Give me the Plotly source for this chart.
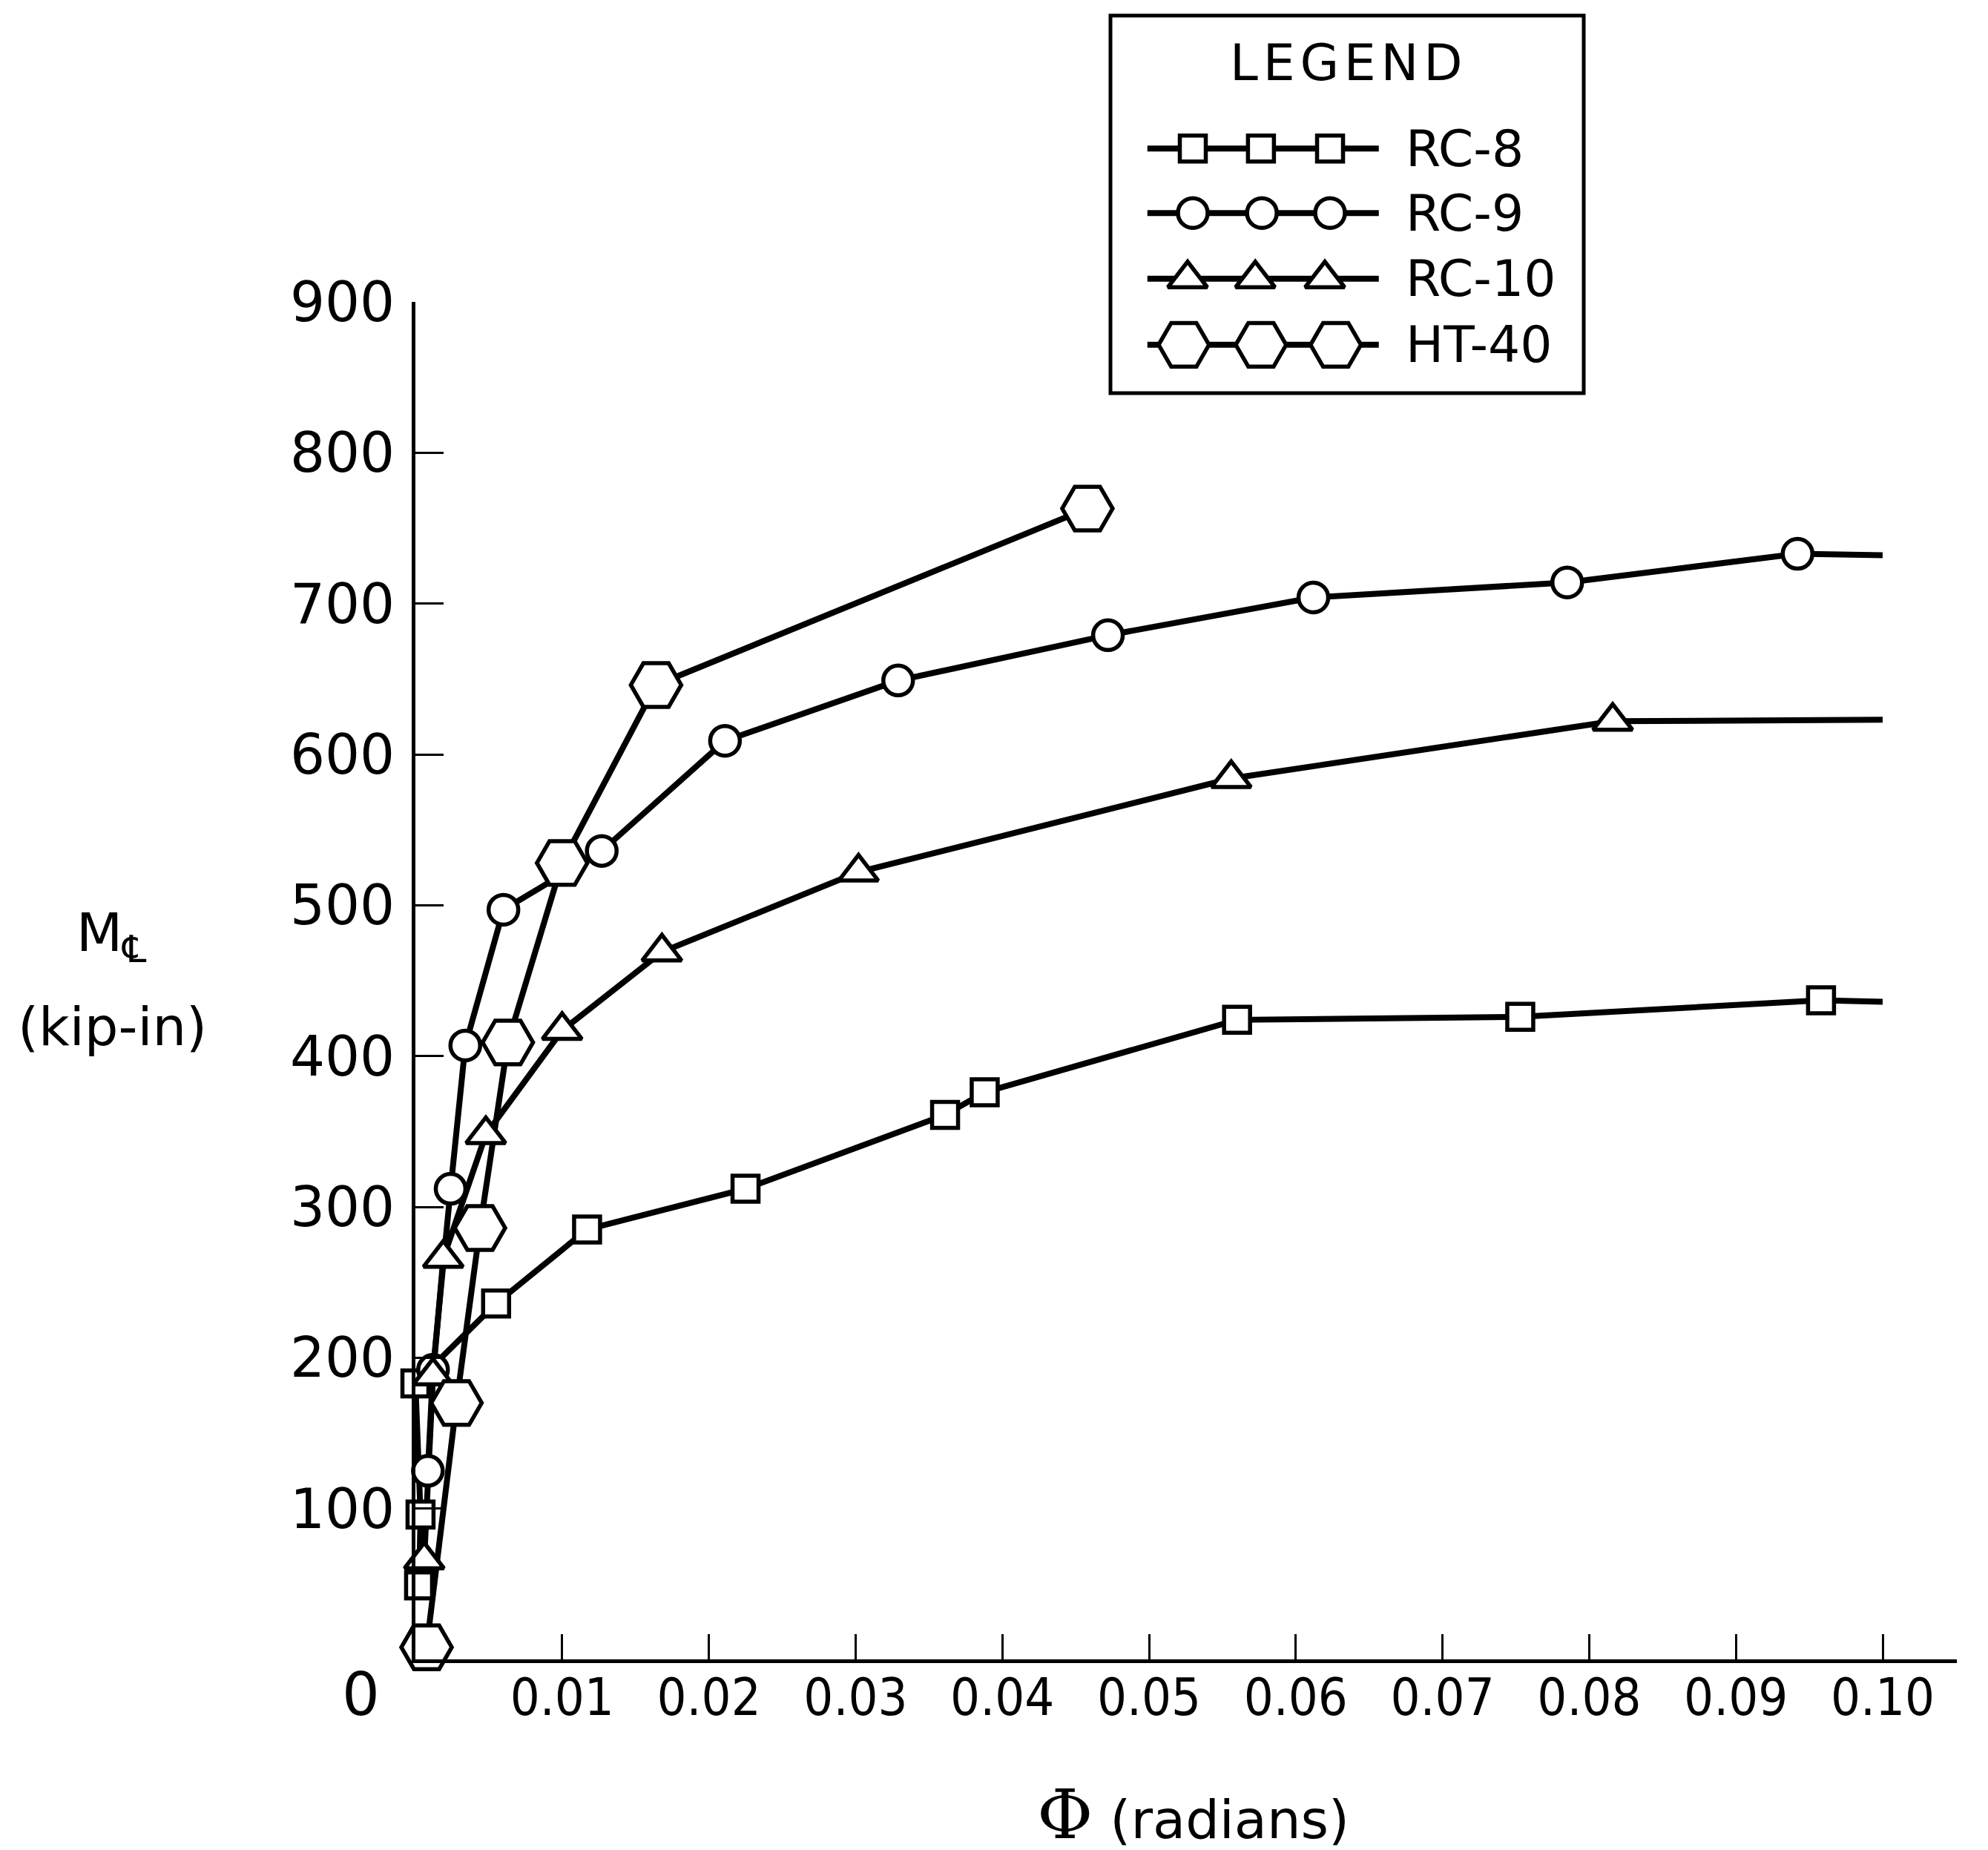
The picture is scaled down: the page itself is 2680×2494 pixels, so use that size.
import plotly.graph_objects as go

# ---------------- data ----------------
rc8_phi = [0.00025, 0.00035, 0.0, 0.0055, 0.0117, 0.0225, 0.0361, 0.0388, 0.0560, 0.0753, 0.0958]
rc8_m = [49, 96, 183, 236, 285, 312, 361, 376, 424, 426, 437]
rc8_end = (0.100, 436)

rc9_phi = [0.00085, 0.0012, 0.0024, 0.0034, 0.0060, 0.0127, 0.0211, 0.0329, 0.0472, 0.0612, 0.0785, 0.0942]
rc9_m = [125, 192, 312, 407, 497, 536, 609, 649, 679, 704, 714, 733]
rc9_end = (0.100, 732)

rc10_phi = [0.0006, 0.0012, 0.0019, 0.0048, 0.0100, 0.0168, 0.0302, 0.0556, 0.0816]
rc10_m = [66, 188, 266, 348, 417, 469, 522, 584, 622]
rc10_end = (0.100, 623)

ht40_phi = [0.00076, 0.0028, 0.0044, 0.0063, 0.0100, 0.0164, 0.0458]
ht40_m = [8, 170, 286, 409, 528, 646, 763]

x_ticks = [0.01, 0.02, 0.03, 0.04, 0.05, 0.06, 0.07, 0.08, 0.09, 0.10]
x_ticktext = ["0.01", "0.02", "0.03", "0.04", "0.05", "0.06", "0.07", "0.08", "0.09", "0.10"]
y_ticks = [100, 200, 300, 400, 500, 600, 700, 800, 900]
y_ticktext = ["100", "200", "300", "400", "500", "600", "700", "800", "900"]

legend_names = ["RC-8", "RC-9", "RC-10", "HT-40"]

# ---------------- layout geometry (pixels) ----------------
W, H = 2680, 2494
AX_L, AX_R = 560, 2638      # x = 0 ... right end of axis line
AX_B, AX_T = 2237, 407      # y = 0 ... y = 900
PX_PER_X = 19780.0          # pixels per radian
X_MAX = (AX_R - AX_L) / PX_PER_X

LEG_L, LEG_R, LEG_T, LEG_B = 1497, 2135, 21, 530

def px(x):
    return x / W

def py(y):
    return 1 - y / H

INK = "black"
LW = 8
MLW = 5.5

styles = {
    "RC-8": dict(symbol="square", size=35),
    "RC-9": dict(symbol="circle", size=40),
    "RC-10": dict(symbol="triangle-up", size=46),
    "HT-40": dict(symbol="hexagon2", size=68),
}

series = [
    ("RC-8", rc8_phi, rc8_m, rc8_end),
    ("RC-9", rc9_phi, rc9_m, rc9_end),
    ("RC-10", rc10_phi, rc10_m, rc10_end),
    ("HT-40", ht40_phi, ht40_m, None),
]

fig = go.Figure()

# lines first
for name, xs, ys, end in series:
    lx = list(xs) + ([end[0]] if end else [])
    ly = list(ys) + ([end[1]] if end else [])
    fig.add_trace(go.Scatter(
        x=lx, y=ly, mode="lines", line=dict(color=INK, width=LW),
        cliponaxis=False, showlegend=False, hoverinfo="skip"))

# then markers
for name, xs, ys, end in series:
    st = styles[name]
    fig.add_trace(go.Scatter(
        x=xs, y=ys, mode="markers", name=name,
        marker=dict(symbol=st["symbol"], size=st["size"], color="white",
                    line=dict(color=INK, width=MLW)),
        cliponaxis=False, showlegend=False))

# ---------------- custom legend (inset axes) ----------------
leg_rows = [0.648, 0.477, 0.303, 0.128]
leg_line_x = [0.078, 0.567]
leg_marker_x = {
    "RC-8": [0.174, 0.318, 0.464],
    "RC-9": [0.174, 0.320, 0.464],
    "RC-10": [0.163, 0.306, 0.453],
    "HT-40": [0.155, 0.318, 0.476],
}
for name, yrow in zip(legend_names, leg_rows):
    st = styles[name]
    fig.add_trace(go.Scatter(
        x=leg_line_x, y=[yrow, yrow], mode="lines",
        line=dict(color=INK, width=LW), xaxis="x2", yaxis="y2",
        showlegend=False, hoverinfo="skip", cliponaxis=False))
    fig.add_trace(go.Scatter(
        x=leg_marker_x[name], y=[yrow] * 3, mode="markers",
        marker=dict(symbol=st["symbol"], size=st["size"], color="white",
                    line=dict(color=INK, width=MLW)),
        xaxis="x2", yaxis="y2", showlegend=False, hoverinfo="skip", cliponaxis=False))

annotations = []
for name, yrow in zip(legend_names, leg_rows):
    annotations.append(dict(
        x=0.62, y=yrow, xref="x2", yref="y2", text=name, showarrow=False,
        xanchor="left", yanchor="middle",
        font=dict(family="DejaVu Sans", size=68, color=INK)))

annotations.append(dict(
    x=px(1815), y=py(85), xref="paper", yref="paper",
    text="L\u200aE\u200aG\u200aE\u200aN\u200aD", showarrow=False,
    xanchor="center", yanchor="middle",
    font=dict(family="DejaVu Sans", size=68, color=INK)))

# axis titles and origin label
annotations += [
    dict(x=px(150), y=py(1262), xref="paper", yref="paper",
         text="M<sub>\u2104</sub>", showarrow=False, xanchor="center", yanchor="middle",
         font=dict(family="DejaVu Sans", size=72, color=INK)),
    dict(x=px(151), y=py(1384), xref="paper", yref="paper",
         text="(kip-in)", showarrow=False, xanchor="center", yanchor="middle",
         font=dict(family="DejaVu Sans", size=72, color=INK)),
    dict(x=px(1608), y=py(2446), xref="paper", yref="paper",
         text="<span style='font-family:DejaVu Serif;font-size:92px'>\u03a6</span> (radians)",
         showarrow=False, xanchor="center", yanchor="middle",
         font=dict(family="DejaVu Sans", size=72, color=INK)),
    dict(x=px(486), y=py(2284), xref="paper", yref="paper",
         text="0", showarrow=False, xanchor="center", yanchor="middle",
         font=dict(family="DejaVu Sans", size=80, color=INK)),
]

shapes = [dict(type="rect", xref="paper", yref="paper",
               x0=px(LEG_L), x1=px(LEG_R), y0=py(LEG_B), y1=py(LEG_T),
               line=dict(color=INK, width=5), fillcolor="rgba(0,0,0,0)")]

fig.update_layout(
    width=W, height=H, autosize=False,
    margin=dict(l=0, r=0, t=0, b=0, pad=0, autoexpand=False),
    paper_bgcolor="white", plot_bgcolor="white",
    showlegend=False,
    xaxis=dict(domain=[px(AX_L), px(AX_R)], range=[0, X_MAX],
               showgrid=False, zeroline=False, showline=True, linecolor=INK, linewidth=5,
               ticks="inside", ticklen=34, tickwidth=3, tickcolor=INK,
               tickvals=x_ticks, ticktext=x_ticktext, ticklabelstandoff=-14,
               tickfont=dict(family="DejaVu Sans Condensed, DejaVu Sans", size=70, color=INK),
               fixedrange=True, anchor="y", automargin=False),
    yaxis=dict(domain=[py(AX_B), py(AX_T)], range=[0, 900],
               showgrid=False, zeroline=False, showline=True, linecolor=INK, linewidth=5,
               ticks="inside", ticklen=38, tickwidth=3, tickcolor=INK,
               tickvals=y_ticks, ticktext=y_ticktext, ticklabelstandoff=8,
               tickfont=dict(family="DejaVu Sans", size=74, color=INK),
               fixedrange=True, anchor="x", automargin=False),
    xaxis2=dict(domain=[px(LEG_L), px(LEG_R)], range=[0, 1], visible=False,
                fixedrange=True, anchor="y2"),
    yaxis2=dict(domain=[py(LEG_B), py(LEG_T)], range=[0, 1], visible=False,
                fixedrange=True, anchor="x2"),
    annotations=annotations,
    shapes=shapes,
)

fig.write_html("out.html")
